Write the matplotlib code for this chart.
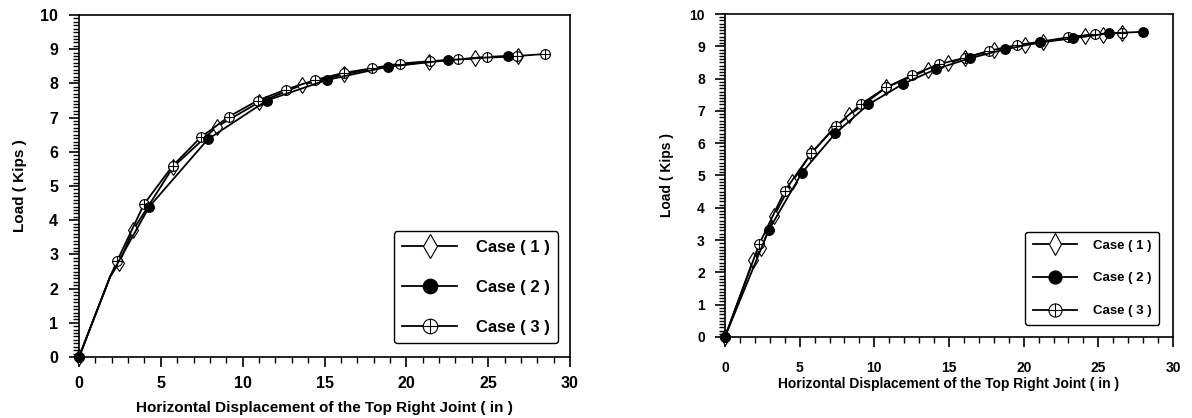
import matplotlib
matplotlib.use("Agg")
import matplotlib.pyplot as plt
from matplotlib.path import Path
from matplotlib.ticker import MultipleLocator

plt.rcParams['font.family'] = ['Liberation Sans', 'DejaVu Sans']
plt.rcParams['font.weight'] = 'bold'

labels = ['Case ( 1 )', 'Case ( 2 )', 'Case ( 3 )']
x_label = 'Horizontal Displacement of the Top Right Joint ( in )'
y_label = 'Load ( Kips )'

# left chart
left_case1_x = [0, 1.9, 2.45, 3.3, 5.76, 8.41, 11.0, 13.6, 16.2, 18.0, 21.4, 24.2, 26.8]
left_case1_y = [0, 2.35, 2.75, 3.71, 5.56, 6.73, 7.45, 7.95, 8.27, 8.43, 8.64, 8.73, 8.80]
left_case1_mark = [0, 2, 3, 4, 5, 6, 7, 8, 10, 11, 12]

left_case2_x = [0, 1.9, 4.30, 7.88, 11.47, 15.13, 18.9, 22.56, 26.22]
left_case2_y = [0, 2.35, 4.40, 6.37, 7.50, 8.10, 8.49, 8.68, 8.80]
left_case2_mark = [0, 2, 3, 4, 5, 6, 7, 8]

left_case3_x = [0, 1.9, 2.34, 3.97, 5.72, 7.43, 9.16, 10.92, 12.63, 14.42, 16.19, 17.88,
                19.6, 21.44, 23.17, 24.9, 26.74, 28.47]
left_case3_y = [0, 2.35, 2.82, 4.47, 5.59, 6.42, 7.03, 7.50, 7.82, 8.10, 8.31, 8.44,
                8.58, 8.65, 8.70, 8.78, 8.80, 8.86]
left_case3_mark = [0] + list(range(2, 18))

# right chart
right_case1_x = [0, 1.89, 2.44, 3.29, 4.5, 5.78, 7.2, 8.33, 10.8, 13.56, 14.9, 16.1,
                 18.0, 20.1, 21.3, 24.1, 25.3, 26.6]
right_case1_y = [0, 2.38, 2.75, 3.75, 4.81, 5.69, 6.42, 6.87, 7.73, 8.27, 8.47, 8.65,
                 8.88, 9.04, 9.14, 9.32, 9.36, 9.42]

right_case2_x = [0, 2.93, 5.16, 7.4, 9.6, 11.9, 14.15, 16.4, 18.78, 21.1, 23.33, 25.7, 28.0]
right_case2_y = [0, 3.31, 5.09, 6.31, 7.20, 7.83, 8.30, 8.63, 8.91, 9.12, 9.25, 9.40, 9.45]

right_case3_x = [0, 2.29, 4.0, 5.78, 7.44, 9.11, 10.8, 12.55, 14.3, 16.1, 17.67, 19.56,
                 21.1, 23.0, 24.8, 26.6]
right_case3_y = [0, 2.87, 4.52, 5.69, 6.53, 7.21, 7.73, 8.11, 8.44, 8.65, 8.86, 9.04,
                 9.14, 9.28, 9.38, 9.42]

# circle with a cross inside
oplus = Path.make_compound_path(
    Path.unit_circle(),
    Path([(-1, 0), (1, 0), (0, -1), (0, 1)],
         [Path.MOVETO, Path.LINETO, Path.MOVETO, Path.LINETO]))

fig = plt.figure(figsize=(11.92, 4.18), dpi=100)


def draw_panel(rect, series, tick_fs, label_fs, leg_fs, xpad, ypad,
               xlab_y, ylab_x, leg_anchor, leg_kw):
    ax = fig.add_axes(rect)
    styles = [dict(marker='d', markersize=8, markerfacecolor='white', zorder=2),
              dict(marker='o', markersize=7, markerfacecolor='black', zorder=4),
              dict(marker=oplus, markersize=7, markerfacecolor='white', zorder=3)]
    for (xs, ys, mark), st, lab in zip(series, styles, labels):
        ax.plot(xs, ys, color='black', lw=1.3, markevery=mark,
                markeredgecolor='black', markeredgewidth=0.8, label=lab,
                clip_on=False, **st)
    ax.set_xlim(0, 30)
    ax.set_ylim(0, 10)
    ax.xaxis.set_major_locator(MultipleLocator(5))
    ax.xaxis.set_minor_locator(MultipleLocator(1))
    ax.yaxis.set_major_locator(MultipleLocator(1))
    ax.yaxis.set_minor_locator(MultipleLocator(0.1))
    ax.tick_params(which='major', direction='out', length=7, width=1.2,
                   labelsize=tick_fs)
    ax.tick_params(which='minor', direction='out', length=4, width=1.0)
    ax.tick_params(axis='x', which='major', pad=xpad)
    ax.tick_params(axis='y', which='major', pad=ypad)
    for sp in ax.spines.values():
        sp.set_linewidth(1.2)
    ax.set_xlabel(x_label, fontsize=label_fs, fontweight='bold')
    ax.set_ylabel(y_label, fontsize=label_fs, fontweight='bold')
    ax.xaxis.set_label_coords(0.5, xlab_y)
    ax.yaxis.set_label_coords(ylab_x, 0.5)
    leg = ax.legend(loc='lower right', bbox_to_anchor=leg_anchor, frameon=True,
                    fancybox=True, edgecolor='black', framealpha=1,
                    borderaxespad=0,
                    prop={'weight': 'bold', 'size': leg_fs}, **leg_kw)
    leg.get_frame().set_linewidth(1.0)
    return ax


draw_panel([0.0663, 0.1459, 0.4119, 0.8182],
           [(left_case1_x, left_case1_y, left_case1_mark),
            (left_case2_x, left_case2_y, left_case2_mark),
            (left_case3_x, left_case3_y, left_case3_mark)],
           tick_fs=11.5, label_fs=11, leg_fs=12, xpad=7, ypad=8,
           xlab_y=-0.129, ylab_x=-0.106,
           leg_anchor=(0.9756, 0.041),
           leg_kw=dict(markerscale=1.5, handlelength=3.3, labelspacing=1.5,
                       borderpad=0.5, handletextpad=1.1))

draw_panel([0.6082, 0.1938, 0.3759, 0.7727],
           [(right_case1_x, right_case1_y, None),
            (right_case2_x, right_case2_y, None),
            (right_case3_x, right_case3_y, None)],
           tick_fs=10, label_fs=10, leg_fs=9.5, xpad=10, ypad=7.5,
           xlab_y=-0.124, ylab_x=-0.114,
           leg_anchor=(0.969, 0.037),
           leg_kw=dict(markerscale=1.35, handlelength=3.3, labelspacing=1.55,
                       borderpad=0.6, handletextpad=1.2))

fig.savefig('out.png', dpi=100)
